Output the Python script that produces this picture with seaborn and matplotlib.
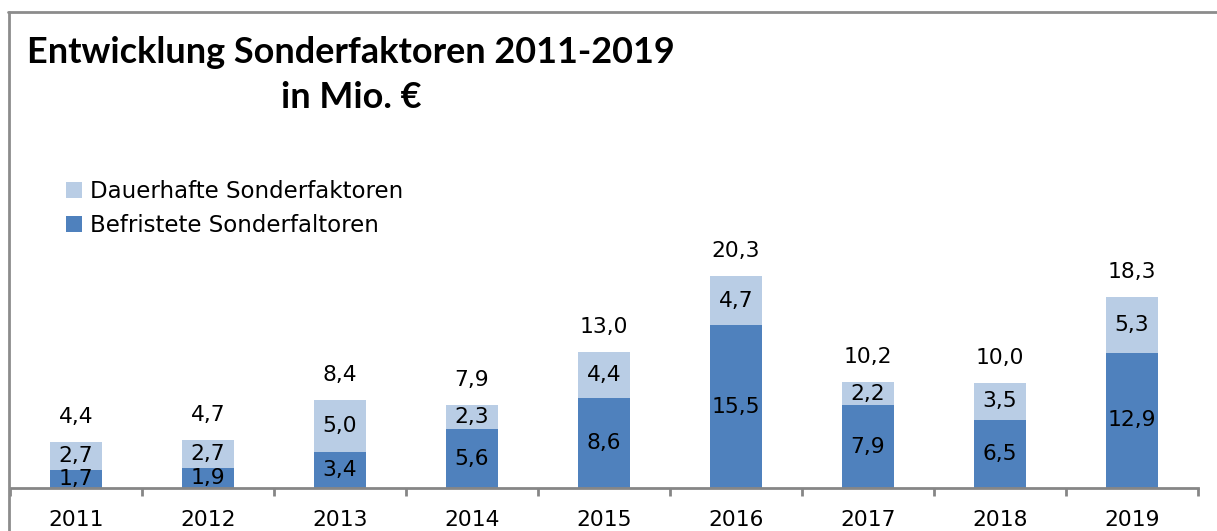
import matplotlib
matplotlib.use("Agg")
import matplotlib.pyplot as plt
import seaborn as sns
import pandas as pd
from matplotlib.patches import Patch
from matplotlib.lines import Line2D

years = ["2011", "2012", "2013", "2014", "2015", "2016", "2017", "2018", "2019"]
befristete = [1.7, 1.9, 3.4, 5.6, 8.6, 15.5, 7.9, 6.5, 12.9]
dauerhafte = [2.7, 2.7, 5.0, 2.3, 4.4, 4.7, 2.2, 3.5, 5.3]
totals = [4.4, 4.7, 8.4, 7.9, 13.0, 20.3, 10.2, 10.0, 18.3]

light = "#B9CDE5"
dark = "#4F81BD"
gray = "#868686"

sns.set_theme(style="white")
plt.rcParams["font.family"] = ["DejaVu Sans"]
plt.rcParams["text.color"] = "black"
plt.rcParams["xtick.color"] = "black"

df = pd.DataFrame({"Jahr": years, "Befristete": befristete, "Dauerhafte": dauerhafte})
df["Stack"] = df["Befristete"] + df["Dauerhafte"]

W, H = 1217, 531
fig = plt.figure(figsize=(W / 100, H / 100), dpi=100)
ax = fig.add_axes([10 / W, 1 - 488 / H, 1188 / W, 338 / H])

sns.barplot(data=df, x="Jahr", y="Stack", color=light, width=0.40, ax=ax,
            saturation=1, linewidth=0, order=years)
sns.barplot(data=df, x="Jahr", y="Befristete", color=dark, width=0.40, ax=ax,
            saturation=1, linewidth=0, order=years)

ax.set_xlim(-0.5, len(years) - 0.5)
ax.set_ylim(0, 338 / 10.5)
ax.set_xlabel("")
ax.set_ylabel("")
ax.set_yticks([])
for s in ["top", "right", "left"]:
    ax.spines[s].set_visible(False)
ax.spines["bottom"].set_color(gray)
ax.spines["bottom"].set_linewidth(2)

ax.set_xticks([i - 0.5 for i in range(len(years) + 1)])
ax.set_xticklabels([])
ax.set_xticks(range(len(years)), minor=True)
ax.set_xticklabels(years, minor=True, fontsize=15.7, color="black")
ax.tick_params(axis="x", which="major", direction="out", length=6, width=2, color=gray, bottom=True)
ax.tick_params(axis="x", which="minor", length=0, pad=15.5, bottom=True, labelcolor="black")

fs = 15.7
for i in range(len(years)):
    b, d, t = befristete[i], dauerhafte[i], totals[i]
    ax.text(i, b / 2, f"{b:.1f}".replace(".", ","), ha="center", va="center", fontsize=fs, color="black")
    ax.text(i, b + d / 2, f"{d:.1f}".replace(".", ","), ha="center", va="center", fontsize=fs, color="black")
    ax.annotate(f"{t:.1f}".replace(".", ","), xy=(i, b + d), xytext=(0, 18), textcoords="offset points",
                ha="center", va="center", fontsize=fs, color="black")

handles = [Patch(facecolor=light, edgecolor="none"), Patch(facecolor=dark, edgecolor="none")]
leg = fig.legend(handles, ["Dauerhafte Sonderfaktoren", "Befristete Sonderfaltoren"],
                 loc="upper left", bbox_to_anchor=(66 / W, 1 - 180 / H), frameon=False,
                 fontsize=16.5, handlelength=0.7, handleheight=0.7, handletextpad=0.35,
                 labelspacing=0.5, borderaxespad=0, borderpad=0, labelcolor="black")

fig.text(351 / W, 1 - 75 / H, "Entwicklung Sonderfaktoren 2011-2019\nin Mio. €", ha="center", va="center",
         fontsize=25.9, fontweight="bold", family=["Lato", "DejaVu Sans"], linespacing=1.45, color="black")

fig.add_artist(Line2D([8 / W, 1], [1 - 12 / H, 1 - 12 / H], transform=fig.transFigure, color="#8C8C8C", lw=2))
fig.add_artist(Line2D([9 / W, 9 / W], [0, 1 - 12 / H], transform=fig.transFigure, color="#8C8C8C", lw=2))

fig.savefig("out.png", dpi=100)
